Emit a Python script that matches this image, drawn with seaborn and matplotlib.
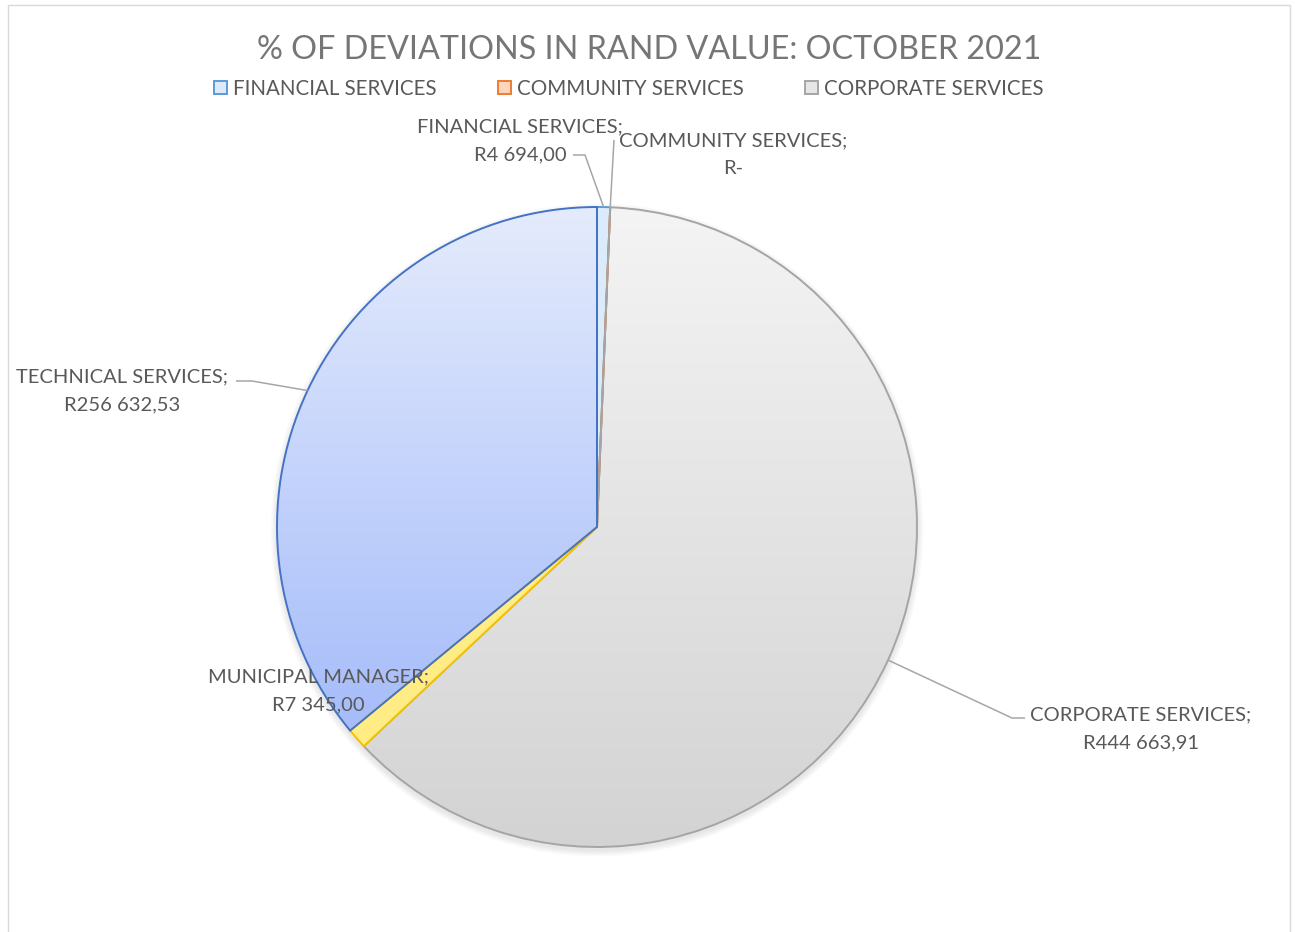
import numpy as np
import matplotlib
matplotlib.use("Agg")
import matplotlib.pyplot as plt
import seaborn as sns
from matplotlib.colors import LinearSegmentedColormap
from matplotlib.patches import Rectangle, Circle

# ---- data ----
categories = ["FINANCIAL SERVICES", "COMMUNITY SERVICES", "CORPORATE SERVICES",
              "MUNICIPAL MANAGER", "TECHNICAL SERVICES"]
values = [4694.00, 0.0, 444663.91, 7345.00, 256632.53]
value_labels = ["R4 694,00", "R-", "R444 663,91", "R7 345,00", "R256 632,53"]
title = "% OF DEVIATIONS IN RAND VALUE: OCTOBER 2021"
legend_count = 3

# ---- style ----
sns.set_theme(style="white")
plt.rcParams['font.family'] = ['Lato', 'DejaVu Sans']

W, H = 1295, 932
fig = plt.figure(figsize=(W / 100, H / 100), dpi=100)
ax = fig.add_axes([0, 0, 1, 1])
cx, cy, R = 597, H - 527, 320

face = ["#dcebfa", "#fbd5bd", "#e6e6e6", "#ffec85", "#c3d2fb"]
edge = ["#5b9bd5", "#ed7d31", "#a5a5a5", "#f2c200", "#4472c4"]
gradients = {2: ("#f4f4f4", "#d3d3d3"), 4: ("#e4ebfc", "#98b2fa")}

# soft shadow under the pie
for k in range(8):
    ax.add_patch(Circle((cx, cy - 3), R + 1 + k * 0.8, facecolor="black",
                        edgecolor="none", alpha=0.012, zorder=-2))

wedges, _ = ax.pie(values, startangle=90, counterclock=False, colors=face,
                   center=(cx, cy), radius=R,
                   wedgeprops=dict(linewidth=1.4))
for w, e in zip(wedges, edge):
    w.set_edgecolor(e)

# legend (only the first three entries visible, as in the reference)
leg = fig.legend(wedges[:legend_count], categories[:legend_count],
                 loc="center", bbox_to_anchor=(629 / W, 1 - 89 / H), ncol=3,
                 frameon=False, fontsize=14.8, labelcolor="#595959",
                 handlelength=0.62, handleheight=0.62, handletextpad=0.3,
                 columnspacing=3.0)

# gradient fills clipped to wedges
grad = np.linspace(0, 1, 256).reshape(-1, 1)
for i, (top, bot) in gradients.items():
    cmap = LinearSegmentedColormap.from_list(f"g{i}", [top, bot])
    im = ax.imshow(grad, extent=(cx - R, cx + R, cy - R, cy + R), origin="upper",
                   cmap=cmap, aspect="auto", zorder=0.5, interpolation="bilinear")
    im.set_clip_path(wedges[i])
    wedges[i].set_facecolor("none")

ax.set_xlim(0, W)
ax.set_ylim(0, H)
ax.axis("off")

# ---- data labels with leader lines ----
def rim(w, frac=0.5):
    ang = np.deg2rad(w.theta1 + (w.theta2 - w.theta1) * frac)
    return cx + R * np.cos(ang), cy + R * np.sin(ang)

txt_kw = dict(ha="center", va="center", fontsize=14.5, color="#595959",
              linespacing=1.8, multialignment="center", zorder=5)
label_pos = {0: (520, 141), 1: (733, 154.5), 2: (1141, 728.5),
             3: (318, 691), 4: (122, 390.5)}
for i, (x, y) in label_pos.items():
    ax.text(x, H - y, f"{categories[i]};\n{value_labels[i]}", **txt_kw)

lc = dict(color="#a6a6a6", lw=1.1, zorder=4, solid_capstyle="butt")
# financial
p = rim(wedges[0])
ax.plot([p[0], 585, 573], [p[1], H - 155, H - 155], **lc)
# community
p = rim(wedges[1])
ax.plot([p[0], 614], [p[1], H - 140], **lc)
# corporate
p = rim(wedges[2])
ax.plot([p[0], 1012, 1025], [p[1], H - 718, H - 718], **lc)
# technical
p = rim(wedges[4])
ax.plot([p[0], 252, 236], [p[1], H - 381, H - 381], **lc)

# title
fig.text(649 / W, 1 - 50 / H, title, ha="center", va="center",
         fontsize=23.3, color="#767676")

# outer chart frame
fig.patches.append(Rectangle((8 / W, -0.02), (1290 - 8) / W, 1.02 - 5 / H,
                             transform=fig.transFigure, fill=False,
                             edgecolor="#d9d9d9", lw=1.0))

fig.savefig("out.png", dpi=100, facecolor="white")
